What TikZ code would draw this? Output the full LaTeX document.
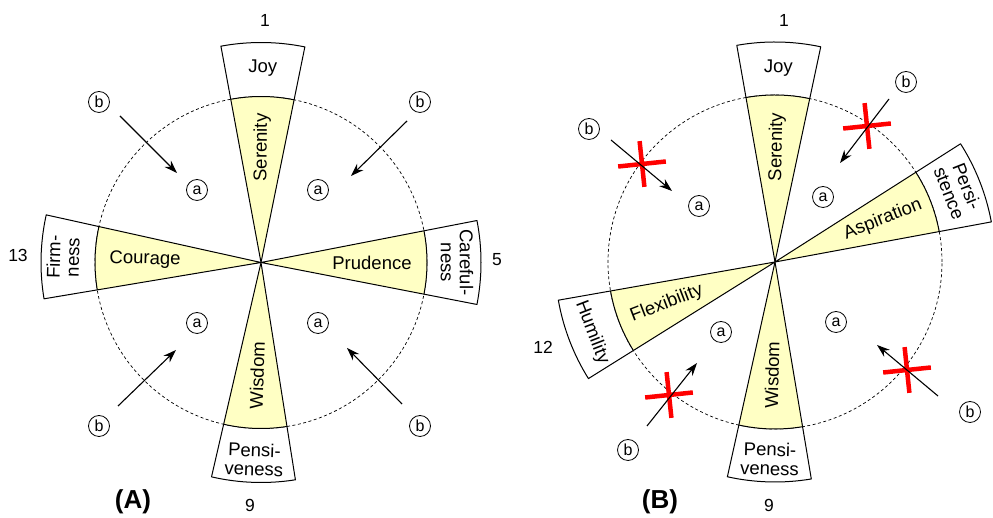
\documentclass[tikz,border=0pt]{standalone}
\usepackage{fontspec}
\setmainfont{Liberation Sans}
\usetikzlibrary{arrows.meta}
\definecolor{wedgefill}{HTML}{FFFFC4}
\newcommand{\virtuewedge}[3]{%
  \fill[wedgefill] (0,0) -- (#1-11:#2) arc[start angle=#1-11, end angle=#1+11, radius=#2] -- cycle;
  \draw[wedgeline] (0,0) -- (#1-11:#3) arc[start angle=#1-11, end angle=#1+11, radius=#3] -- cycle;
  \draw[wedgeline] (#1-11:#2) arc[start angle=#1-11, end angle=#1+11, radius=#2];
}
\begin{document}
\begin{tikzpicture}[x=1pt,y=1pt,
  lbl/.style={font=\fontsize{18.5}{19}\selectfont, inner sep=0pt, align=center},
  num/.style={font=\fontsize{17.5}{18}\selectfont, inner sep=0pt},
  circlbl/.style={circle, draw, line width=0.8pt, minimum size=21pt, inner sep=0pt, font=\fontsize{16}{16}\selectfont},
  panel/.style={font=\bfseries\fontsize{26}{26}\selectfont, inner sep=0pt},
  wedgeline/.style={draw, line width=1pt, line join=round},
  ring/.style={draw, dash pattern=on 3pt off 2.5pt, line width=0.7pt},
  arr/.style={-{Stealth[length=13pt,width=9pt]}, line width=1.1pt},
  cross/.style={draw=red, line width=4.5pt}
]
\useasboundingbox (0,0) rectangle (993,518);

% ================= Panel A =================
\coordinate (cA) at (261,255.5);
\draw[ring] (cA) circle[radius=166];
\begin{scope}[shift={(cA)}]
  \virtuewedge{89.5}{166}{220}
  \virtuewedge{0}{166}{220}
  \virtuewedge{268}{166}{220}
  \virtuewedge{178.5}{166}{220}
  \node[lbl, rotate=-0.5] (joyA) at (89.5:194) {Joy};
  \node[lbl, rotate=89.5] (serA) at (89.5:115) {Serenity};
  \node[lbl] (pruA) at (0:111) {Prudence};
  \node[lbl, rotate=-90] (carA) at (0:196) {Careful-\\ness};
  \node[lbl, rotate=88] (wisA) at (268:113) {Wisdom};
  \node[lbl, rotate=-2] (penA) at (268:197) {Pensi-\\veness};
  \node[lbl, rotate=-1.5] (couA) at (178.5:116) {Courage};
  \node[lbl, rotate=88.5] (firA) at (178.5:198) {Firm-\\ness};
\end{scope}
\node[num] (n1A) at (265,498) {1};
\node[num] (n5A) at (497,258) {5};
\node[num] (n9A) at (250,13) {9};
\node[num] (n13A) at (18,263) {13};
\node[panel] (pA) at (133,16) {(A)};

\node[circlbl] (aA1) at (197,328) {a};
\node[circlbl] (aA2) at (318,328) {a};
\node[circlbl] (aA3) at (197,195) {a};
\node[circlbl] (aA4) at (318,195) {a};
\node[circlbl] (bA1) at (99,416) {b};
\node[circlbl] (bA2) at (420,416) {b};
\node[circlbl] (bA3) at (99,92) {b};
\node[circlbl] (bA4) at (420,92) {b};

\coordinate (sA1) at (120,402); \coordinate (eA1) at (177,345);
\coordinate (sA2) at (407,397); \coordinate (eA2) at (351,342);
\coordinate (sA3) at (118,112); \coordinate (eA3) at (176,168);
\coordinate (sA4) at (402,114); \coordinate (eA4) at (347,170);
\draw[arr] (sA1) -- (eA1);
\draw[arr] (sA2) -- (eA2);
\draw[arr] (sA3) -- (eA3);
\draw[arr] (sA4) -- (eA4);

% ================= Panel B =================
\coordinate (cB) at (775,256);
\draw[ring] (cB) circle[radius=167];
\begin{scope}[shift={(cB)}]
  \virtuewedge{89}{167}{220}
  \virtuewedge{21.5}{167}{220}
  \virtuewedge{268.5}{167}{220}
  \virtuewedge{201}{167}{220}
  \node[lbl, rotate=-1] (joyB) at (89:194) {Joy};
  \node[lbl, rotate=89] (serB) at (89:115) {Serenity};
  \node[lbl, rotate=21.5] (aspB) at (21.5:116) {Aspiration};
  \node[lbl, rotate=-68.5] (perB) at (21.5:197) {Persi-\\stence};
  \node[lbl, rotate=88.5] (wisB) at (268.5:113) {Wisdom};
  \node[lbl, rotate=-1.5] (penB) at (268.5:197) {Pensi-\\veness};
  \node[lbl, rotate=21] (flxB) at (201:116) {Flexibility};
  \node[lbl, rotate=-69] (humB) at (201:196) {Humility};
\end{scope}
\node[num] (n1B) at (784,498) {1};
\node[num] (n9B) at (769,13) {9};
\node[num] (n12B) at (543,171) {12};
\node[panel] (pB) at (660,16) {(B)};

\node[circlbl] (aB1) at (699,312) {a};
\node[circlbl] (aB2) at (823,321) {a};
\node[circlbl] (aB3) at (721,186) {a};
\node[circlbl] (aB4) at (836,196) {a};
\node[circlbl] (bB1) at (589,389) {b};
\node[circlbl] (bB2) at (906,436) {b};
\node[circlbl] (bB3) at (628,68) {b};
\node[circlbl] (bB4) at (970,106) {b};

\coordinate (xB1) at (642,354);
\coordinate (xB2) at (867,392);
\coordinate (xB3) at (669,123);
\coordinate (xB4) at (907,148);
\foreach \c in {xB1,xB2,xB3,xB4}{
  \draw[cross] (\c) ++(186:24) -- ++(6:48);
  \draw[cross] (\c) ++(276:23) -- ++(96:46);
}

\coordinate (sB1) at (611,378); \coordinate (eB1) at (672,327);
\coordinate (sB2) at (889,419); \coordinate (eB2) at (840,355);
\coordinate (sB3) at (647,92);  \coordinate (eB3) at (697,155);
\coordinate (sB4) at (938,122); \coordinate (eB4) at (877,173);
\draw[arr] (sB1) -- (eB1);
\draw[arr] (sB2) -- (eB2);
\draw[arr] (sB3) -- (eB3);
\draw[arr] (sB4) -- (eB4);
\end{tikzpicture}
\end{document}
